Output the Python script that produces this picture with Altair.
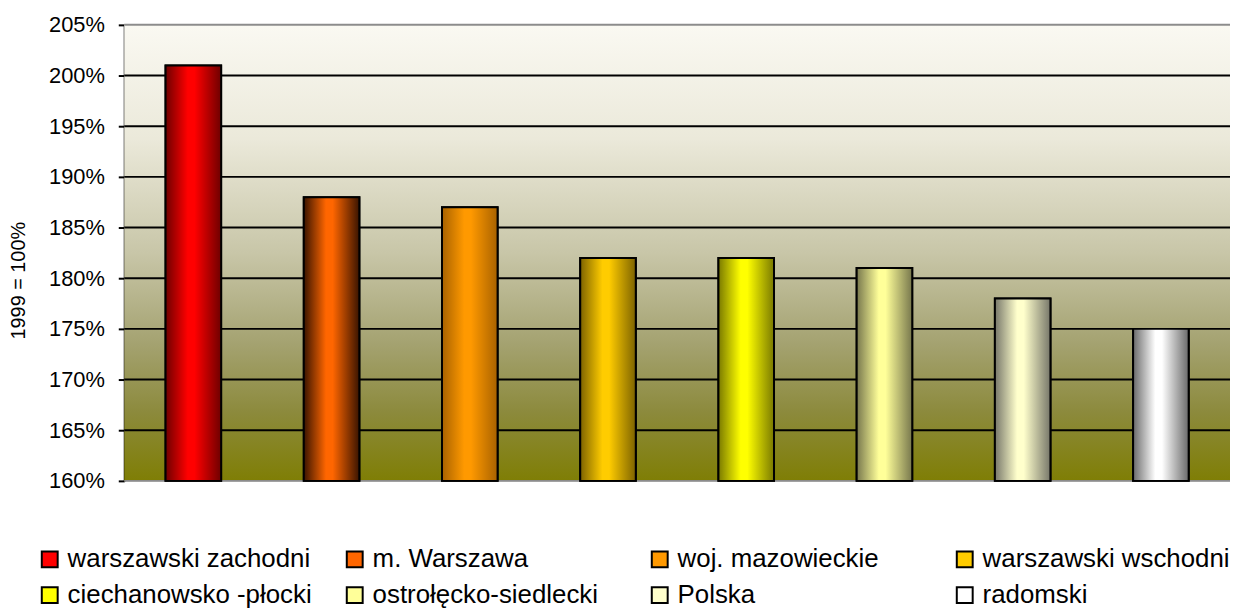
import altair as alt
import pandas as pd

# ---- data ----
categories = ["warszawski zachodni", "m. Warszawa", "woj. mazowieckie", "warszawski wschodni",
              "ciechanowsko -płocki", "ostrołęcko-siedlecki", "Polska", "radomski"]
values = [201, 188, 187, 182, 182, 181, 178, 175]
y_ticks = [160, 165, 170, 175, 180, 185, 190, 195, 200, 205]

# ---- styles ----
bright = ["#ff0000", "#ff6600", "#ff9900", "#ffcc00", "#ffff00", "#ffff99", "#ffffcc", "#ffffff"]
dark = ["#6e0000", "#3a1400", "#a86200", "#7d6300", "#7a7a00", "#77774d", "#77776a", "#6a6a6a"]

FONT = "Liberation Sans"
W, H = 1113, 459

df = pd.DataFrame({"name": categories, "value": values})
ticks_df = pd.DataFrame({"v": y_ticks})

x_enc = alt.X("name:N", sort=categories,
              scale=alt.Scale(domain=categories, paddingInner=0.598, paddingOuter=0.299),
              axis=None)
y_scale = alt.Scale(domain=[160, 205], zero=False, nice=False, clamp=True)
y_axis = alt.Axis(values=y_ticks, labelExpr="datum.value + '%'", title="1999 = 100%",
                  grid=False, domainColor="black", domainWidth=2, tickColor="black",
                  tickWidth=2, tickSize=6, labelFontSize=22, labelColor="black",
                  labelPadding=14, labelFont=FONT, titleFont=FONT, titleFontSize=20,
                  titleFontWeight="normal", titleColor="black", titleX=-96, titleY=257,
                  titleAngle=270, titleBaseline="bottom")

bg_grad = {"gradient": "linear", "x1": 0, "y1": 0, "x2": 0, "y2": 1,
           "stops": [{"offset": 0, "color": "#faf9f2"},
                     {"offset": 0.25, "color": "#ebe9da"},
                     {"offset": 0.5, "color": "#c8c6a8"},
                     {"offset": 0.7, "color": "#a4a270"},
                     {"offset": 0.85, "color": "#8c8a3c"},
                     {"offset": 1, "color": "#7f7e05"}]}

background = alt.Chart(alt.Data(values=[{"a": 1}])).mark_rect(fill=bg_grad).encode(
    x=alt.value(0), x2=alt.value("width"), y=alt.value(0), y2=alt.value("height"))

grid = alt.Chart(ticks_df).mark_rule(strokeWidth=2).encode(
    y=alt.Y("v:Q", scale=y_scale, axis=y_axis),
    color=alt.condition("datum.v == 205 || datum.v == 160",
                        alt.value("#8c8c8c"), alt.value("black")))

legend_bars = alt.Chart(df).mark_bar(stroke="black", strokeWidth=2).encode(
    x=x_enc,
    y=alt.Y("value:Q", scale=y_scale, axis=y_axis),
    color=alt.Color("name:N", sort=categories,
                    scale=alt.Scale(domain=categories, range=bright),
                    legend=alt.Legend(title=None, orient="none", legendX=-88, legendY=525,
                                      direction="horizontal",
                                      columns=4, symbolType="square", symbolSize=256,
                                      symbolStrokeColor="black", symbolStrokeWidth=2,
                                      symbolOpacity=1, labelFontSize=26, labelFont=FONT,
                                      labelColor="black", labelOffset=5, columnPadding=27,
                                      rowPadding=10, gridAlign="all", labelLimit=500)))

layers = [background, grid, legend_bars]
for i, cat in enumerate(categories):
    grad = {"gradient": "linear", "x1": 0, "y1": 0, "x2": 1, "y2": 0,
            "stops": [{"offset": 0, "color": dark[i]},
                      {"offset": 0.4, "color": bright[i]},
                      {"offset": 0.52, "color": bright[i]},
                      {"offset": 1, "color": dark[i]}]}
    layers.append(
        alt.Chart(df).transform_filter(alt.datum.name == cat)
        .mark_bar(fill=grad, stroke="black", strokeWidth=2)
        .encode(x=x_enc, y=alt.Y("value:Q", scale=y_scale, axis=y_axis))
    )

chart = alt.layer(*layers).properties(
    width=W, height=H, autosize="none",
    padding={"left": 117, "top": 15, "right": 0, "bottom": 130},
).configure_view(stroke=None).configure(font=FONT)

chart.save("out.html", embed_options={"renderer": "svg", "actions": False})
